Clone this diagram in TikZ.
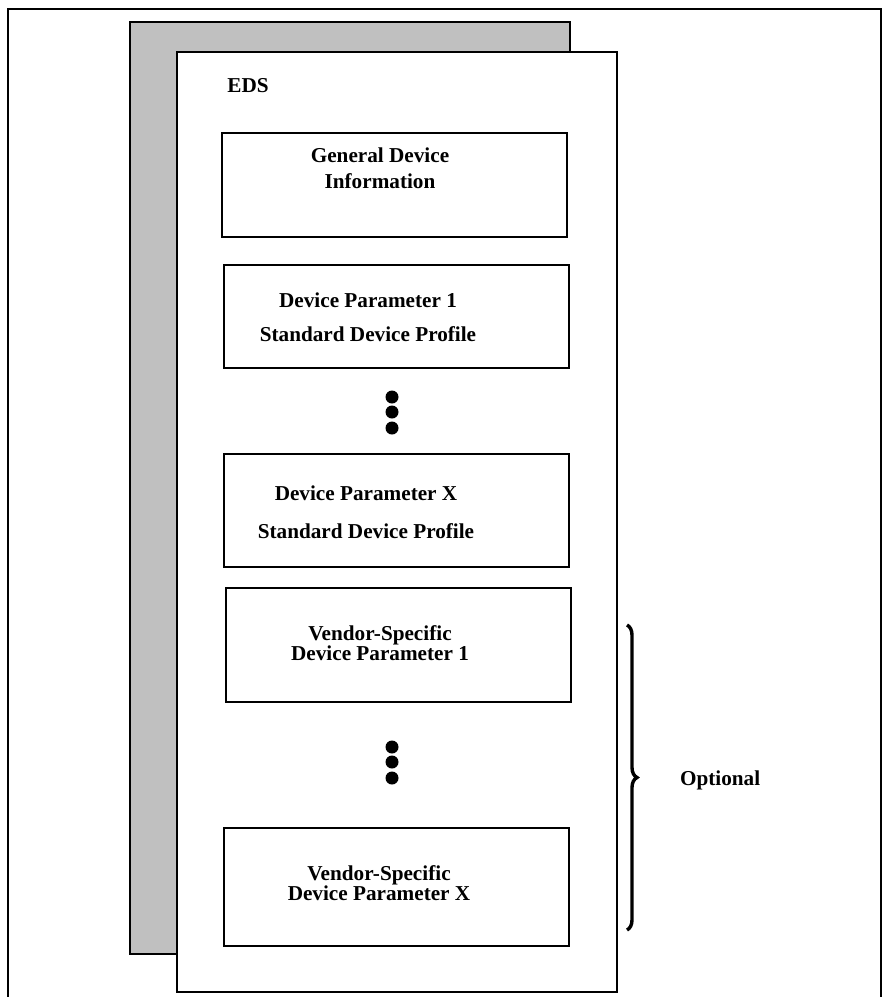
\documentclass[tikz,border=0pt]{standalone}
\usepackage{fontspec}
\setmainfont{Liberation Serif}
\usepackage{tikz}
\usetikzlibrary{decorations.pathreplacing}
\definecolor{sheetgray}{RGB}{192,192,192}

\begin{document}
\begin{tikzpicture}[x=0.5pt, y=-0.5pt,
    every node/.style={font=\fontsize{10.6}{10}\selectfont\bfseries},
    sheet/.style={draw, line width=1pt, minimum width=220pt, inner sep=0pt},
    parambox/.style={draw, line width=1pt, fill=white, minimum width=172.5pt, inner sep=0pt},
    boxtext/.style={align=center, inner sep=0pt}]
      \useasboundingbox (0,0) rectangle (882,997);

      % Outer frame, open at the bottom
      \draw[line width=1.3pt] (8,997) -- (8,9) -- (881,9) -- (881,997);

      % Grey sheet behind, white EDS sheet in front
      \node[sheet, fill=sheetgray, minimum height=466pt] (Back) at (350,488) {};
      \node[sheet, fill=white, minimum height=470pt] (EDS) at (397,522) {};
      \node (EDSlabel) at (248,86) {EDS};

      % General information and the standard profile parameters
      \node[parambox, minimum height=52pt] (GDI) at (394.5,185) {};
      \node[boxtext] (GDItext) at (380,168) {General Device\\[3pt] Information};
      \node[parambox, minimum height=51.5pt] (DP1) at (396,316.5) {};
      \node[boxtext] (DP1text) at (368,317) {Device Parameter 1\\[7pt] Standard Device Profile};
      \node[parambox, minimum height=56.5pt] (DPX) at (396.5,510.5) {};
      \node[boxtext] (DPXtext) at (366,512) {Device Parameter X\\[9pt] Standard Device Profile};

      % Vendor-specific parameters
      \node[parambox, minimum height=57pt] (VS1) at (398.5,645) {};
      \node[boxtext] (VS1text) at (380,643) {Vendor-Specific\\ Device Parameter 1};
      \node[parambox, minimum height=59pt] (VSX) at (396.5,887) {};
      \node[boxtext] (VSXtext) at (379,883) {Vendor-Specific\\ Device Parameter X};

      % Vertical ellipses between the boxes
      \foreach \y in {397,412,428,747,762,778}
        \fill (392,\y) circle[radius=3.25pt];

      % Brace marking the optional part
      \coordinate (BraceTop) at (627,625);
      \coordinate (BraceBot) at (627,930);
      \draw[decorate, decoration={brace, amplitude=5pt}, line width=1.7pt] (BraceTop) -- (BraceBot);
      \node[anchor=west] (Optional) at (673,780) {Optional};
    \end{tikzpicture}
\end{document}
